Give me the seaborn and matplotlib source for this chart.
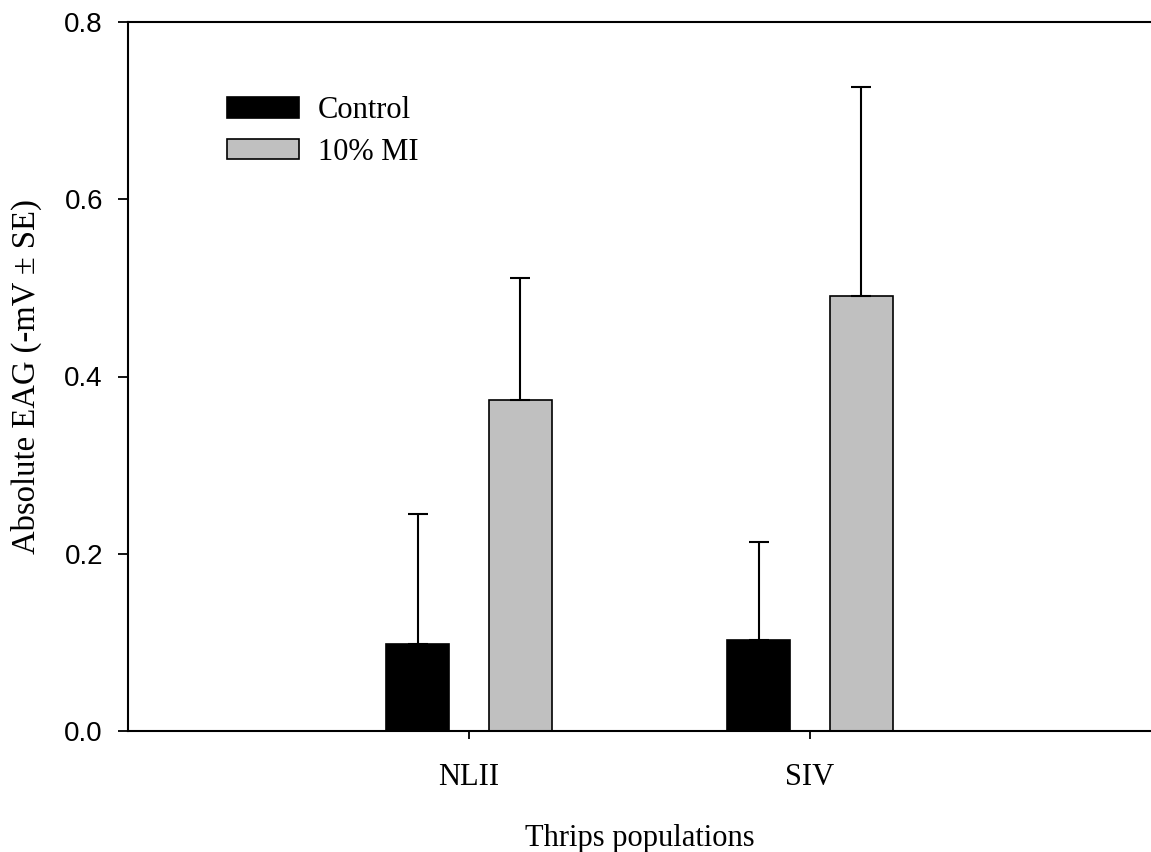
import matplotlib
matplotlib.use("Agg")
import matplotlib.pyplot as plt
import seaborn as sns
import pandas as pd

# Mean absolute EAG responses and their standard errors
populations = ["NLII", "SIV"]
treatments = ["Control", "10% MI"]
control_mean = [0.098, 0.103]
control_se = [0.147, 0.110]
mi_mean = [0.374, 0.491]
mi_se = [0.137, 0.236]
y_ticks = [0.0, 0.2, 0.4, 0.6, 0.8]

sns.set_theme(style="white")
plt.rcParams["font.family"] = ["Liberation Serif", "DejaVu Serif"]
plt.rcParams.update({
    "text.color": "black",
    "axes.labelcolor": "black",
    "xtick.color": "black",
    "ytick.color": "black",
})

df = pd.DataFrame({
    "population": populations * 2,
    "treatment": [treatments[0]] * 2 + [treatments[1]] * 2,
    "mean": control_mean + mi_mean,
})
se_by_treatment = {treatments[0]: control_se, treatments[1]: mi_se}

fig = plt.figure(figsize=(11.51, 8.52), dpi=100)
ax = fig.add_axes([128 / 1151, 1 - 731 / 852, 1 - 128 / 1151, (731 - 22) / 852])

sns.barplot(
    data=df, x="population", y="mean", hue="treatment",
    order=populations, hue_order=treatments,
    palette=["black", "#c0c0c0"], width=0.604, gap=0.397,
    edgecolor="black", linewidth=1.2, errorbar=None, ax=ax,
)

# Upper-only standard error bars on each bar
for container, name in zip(ax.containers, treatments):
    ses = se_by_treatment[name]
    for bar, se in zip(container, ses):
        xc = bar.get_x() + bar.get_width() / 2
        h = bar.get_height()
        ax.errorbar([xc], [h], yerr=[[0], [se]], fmt="none", ecolor="black",
                    elinewidth=1.5, capsize=7.5, capthick=1.5, zorder=1)

ax.set_xlim(-1, 2)
ax.set_ylim(0, 0.8)
ax.set_yticks(y_ticks)
ax.set_yticklabels([f"{t:.1f}" for t in y_ticks], family=["Liberation Sans", "DejaVu Sans"], fontsize=20)
ax.set_xticks([0, 1])
ax.set_xticklabels(populations, fontsize=22)
ax.tick_params(axis="y", direction="out", length=7, width=1.3, pad=11, color="black", labelcolor="black", left=True)
ax.tick_params(axis="x", direction="out", length=6, width=1.3, pad=17, color="black", labelcolor="black", bottom=True)

for side in ["left", "bottom", "top"]:
    ax.spines[side].set_visible(True)
    ax.spines[side].set_color("black")
    ax.spines[side].set_linewidth(1.5)
ax.spines["right"].set_visible(False)

ax.set_xlabel("Thrips populations", fontsize=22, labelpad=23, color="black")
ax.set_ylabel("Absolute EAG (-mV \u00b1 SE)", fontsize=23.5, labelpad=16, color="black")

leg = ax.legend(
    loc="upper left", bbox_to_anchor=(99 / 1023, 1 - 74 / 709),
    frameon=False, fontsize=22, handlelength=2.35, handleheight=0.66,
    handletextpad=0.62, labelspacing=0.42, borderpad=0, borderaxespad=0,
)
for text in leg.get_texts():
    text.set_color("black")
for h in leg.legend_handles:
    h.set_edgecolor("black")
    h.set_linewidth(1.2)

fig.savefig("out.png", dpi=100)
